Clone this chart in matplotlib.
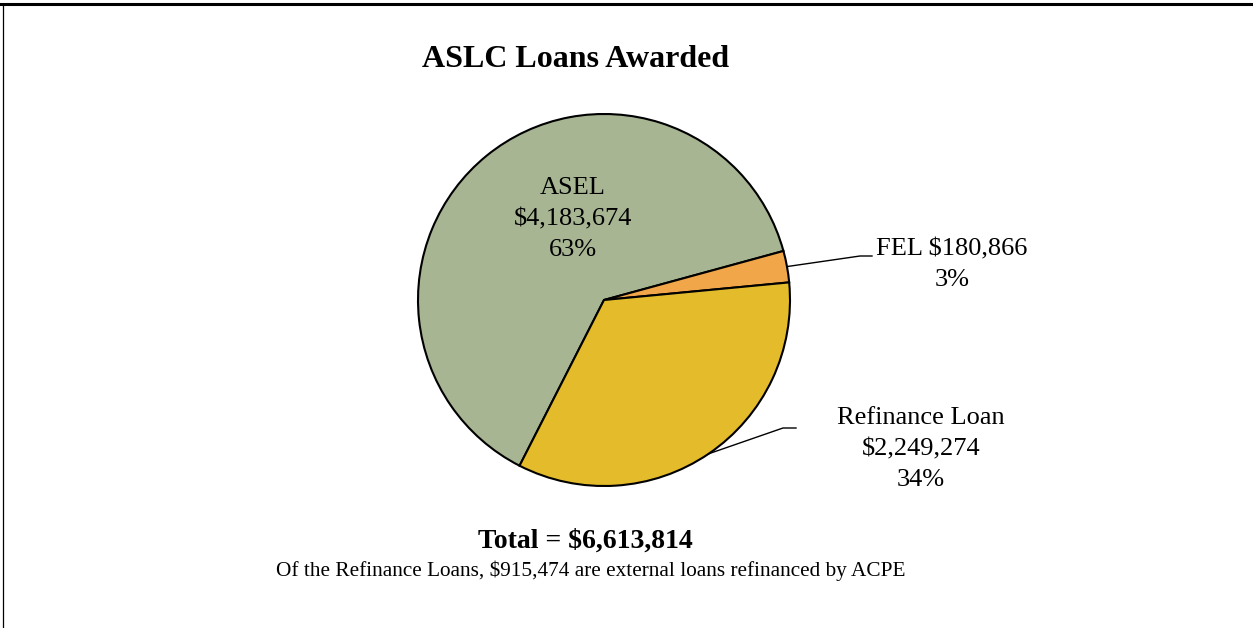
import numpy as np
import matplotlib.pyplot as plt
from matplotlib.lines import Line2D

labels = ["ASEL", "FEL", "Refinance Loan"]
amounts = [4183674, 180866, 2249274]
colors = ["#A7B593", "#F2A64A", "#E4BB2A"]
total_text = "Total = $6,613,814"
note_text = "Of the Refinance Loans, $915,474 are external loans refinanced by ACPE"

plt.rcParams['font.family'] = ['Liberation Serif', 'DejaVu Serif']

W, H = 1253, 628
fig = plt.figure(figsize=(W / 100, H / 100), dpi=100)
ax = fig.add_axes([0, 0, 1, 1])

# pie drawn in pixel units; y axis inverted so clockwise on screen = counterclock True
cx, cy, r = 604, 300, 186
wedges, _ = ax.pie(amounts, colors=colors, center=(cx, cy), radius=r,
                   startangle=117, counterclock=True,
                   wedgeprops=dict(edgecolor='black', linewidth=1.5))
ax.set_xlim(0, W)
ax.set_ylim(H, 0)
ax.axis('off')

pct = [round(a / sum(amounts) * 100) for a in amounts]

def fmt(a):
    return "${:,}".format(a)

# ASEL label inside the slice
ax.text(573, 219, "%s\n%s\n%d%%" % (labels[0], fmt(amounts[0]), pct[0]),
        ha='center', va='center', fontsize=19, linespacing=1.5)

def edge_point(w):
    t = np.deg2rad((w.theta1 + w.theta2) / 2)
    return cx + r * np.cos(t), cy + r * np.sin(t)

# FEL label with leader line
x0, y0 = edge_point(wedges[1])
ax.plot([x0, 860, 872], [y0, 256, 256], color='black', lw=1)
ax.text(952, 265, "%s %s\n%d%%" % (labels[1], fmt(amounts[1]), pct[1]),
        ha='center', va='center', fontsize=19, linespacing=1.5)

# Refinance label with leader line
x0, y0 = edge_point(wedges[2])
ax.plot([x0, 783, 796], [y0, 428, 428], color='black', lw=1)
ax.text(921, 449, "%s\n%s\n%d%%" % (labels[2], fmt(amounts[2]), pct[2]),
        ha='center', va='center', fontsize=19, linespacing=1.5)

ax.text(576, 67, "ASLC Loans Awarded", ha='center', va='baseline',
        fontsize=23, fontweight='bold')
ax.text(585, 548, total_text, ha='center', va='baseline',
        fontsize=20, fontweight='bold')
ax.text(591, 576, note_text, ha='center', va='baseline', fontsize=15.3)

# frame lines
fig.add_artist(Line2D([0, 1], [1 - 4 / H, 1 - 4 / H], color='black', lw=2.2))
fig.add_artist(Line2D([3 / W, 3 / W], [0, 1 - 4 / H], color='black', lw=0.9))

fig.savefig("out.png", dpi=100)
